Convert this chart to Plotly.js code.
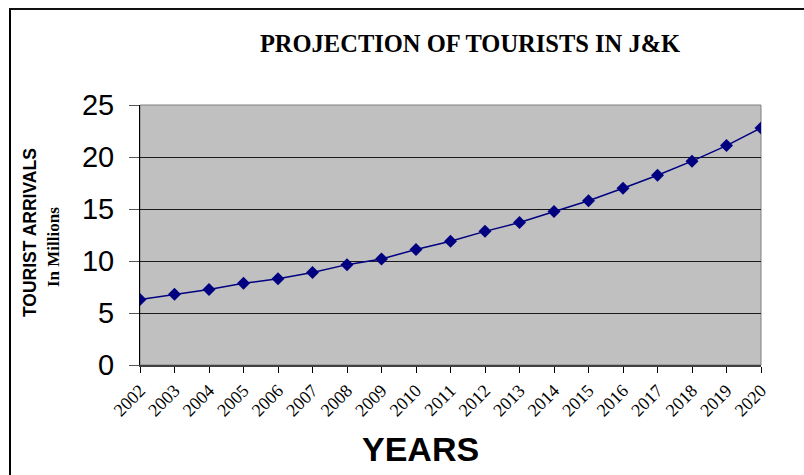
<!DOCTYPE html>
<html>
<head>
<meta charset="utf-8">
<script src="https://cdn.plot.ly/plotly-3.0.1.min.js"></script>
<style>
html,body{margin:0;padding:0;background:#fff;}
#chart{width:804px;height:475px;}
</style>
</head>
<body>
<div id="chart"></div>
<script>
// Data
var years = [2002, 2003, 2004, 2005, 2006, 2007, 2008, 2009, 2010, 2011,
             2012, 2013, 2014, 2015, 2016, 2017, 2018, 2019, 2020];
var arrivals = [6.3, 6.8, 7.25, 7.85, 8.3, 8.9, 9.65, 10.2, 11.1, 11.9,
                12.85, 13.7, 14.75, 15.8, 17.0, 18.25, 19.6, 21.1, 22.8];
var yTicks = [0, 5, 10, 15, 20, 25];

var W = 804, H = 475;
var mL = 140, mR = 43, mT = 105, mB = 110;
var pw = W - mL - mR, ph = H - mT - mB;
function px(x){ return (x - mL) / pw; }
function py(y){ return (H - mB - y) / ph; }

var trace = {
  x: years,
  y: arrivals,
  type: 'scatter',
  mode: 'lines+markers',
  line: {color: '#000080', width: 1.5},
  marker: {symbol: 'diamond', size: 10, color: '#000080'},
  hoverinfo: 'x+y'
};

var layout = {
  width: W, height: H,
  margin: {l: mL, r: mR, t: mT, b: mB, pad: 0},
  paper_bgcolor: '#ffffff',
  plot_bgcolor: '#c0c0c0',
  showlegend: false,
  title: {
    text: 'PROJECTION OF TOURISTS IN J&amp;K',
    font: {family: 'Liberation Serif, Times New Roman, serif', size: 24.5, color: '#000', weight: 'bold'},
    xref: 'container', yref: 'container',
    x: 470 / W, xanchor: 'center',
    y: 1 - 43 / H, yanchor: 'middle'
  },
  xaxis: {
    type: 'linear',
    range: [years[0], years[years.length - 1]],
    tickmode: 'array',
    tickvals: years,
    ticktext: years.map(String),
    tickangle: -45,
    tickfont: {family: 'Liberation Serif, Times New Roman, serif', size: 18, color: '#000'},
    ticks: 'outside', ticklen: 6, tickcolor: '#000', tickwidth: 1,
    showgrid: false,
    showline: true, linecolor: '#404040', linewidth: 2,
    zeroline: false,
    fixedrange: true
  },
  yaxis: {
    range: [0, 25],
    tickvals: yTicks,
    ticktext: yTicks.map(String),
    tickfont: {family: 'Liberation Sans, Arial, sans-serif', size: 29, color: '#000'},
    ticks: 'outside', ticklen: 10, tickcolor: '#555', tickwidth: 1,
    ticklabelstandoff: 9,
    showgrid: true, gridcolor: '#1a1a1a', gridwidth: 1,
    showline: true, linecolor: '#000', linewidth: 1,
    zeroline: false,
    fixedrange: true
  },
  shapes: [
    {type: 'rect', xref: 'paper', yref: 'paper', x0: 0, x1: 1, y0: 0, y1: 1,
     line: {color: '#808080', width: 1}, layer: 'between'},
    {type: 'line', xref: 'paper', yref: 'paper', x0: px(10), x1: px(10), y0: py(9), y1: py(480),
     line: {color: '#000', width: 2}},
    {type: 'line', xref: 'paper', yref: 'paper', x0: px(9), x1: px(810), y0: py(9), y1: py(9),
     line: {color: '#111', width: 2}}
  ],
  annotations: [
    {text: 'YEARS', xref: 'paper', yref: 'paper', x: px(420), y: py(449),
     xanchor: 'center', yanchor: 'middle', showarrow: false,
     font: {family: 'Liberation Sans, Arial, sans-serif', size: 34, color: '#000', weight: 'bold'}},
    {text: 'TOURIST ARRIVALS', xref: 'paper', yref: 'paper', x: px(30), y: py(233),
     xanchor: 'center', yanchor: 'middle', showarrow: false, textangle: -90,
     font: {family: 'Liberation Sans, Arial, sans-serif', size: 17.5, color: '#000', weight: 'bold'}},
    {text: 'In Millions', xref: 'paper', yref: 'paper', x: px(53), y: py(247),
     xanchor: 'center', yanchor: 'middle', showarrow: false, textangle: -90,
     font: {family: 'Liberation Serif, Times New Roman, serif', size: 17, color: '#000', weight: 'bold'}}
  ]
};

Plotly.newPlot('chart', [trace], layout, {displayModeBar: false, staticPlot: true});
</script>
</body>
</html>
